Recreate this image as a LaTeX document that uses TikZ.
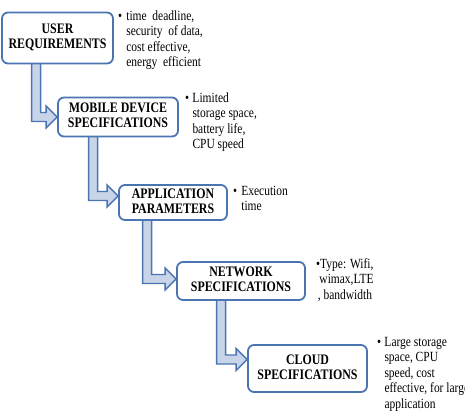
\documentclass[tikz,border=0pt]{standalone}
\usepackage{fontspec}
\setmainfont{Liberation Serif}
\usetikzlibrary{calc}
\definecolor{boxblue}{RGB}{74,117,178}
\definecolor{arrowfill}{RGB}{200,212,232}
\pgfdeclarelayer{bg}\pgfsetlayers{bg,main}
\tikzset{
  box/.style={draw=boxblue, line width=1.8pt, rounded corners=6pt, fill=white,
    align=center, font=\fontsize{14.5}{15}\selectfont\bfseries, inner sep=0pt},
  note/.style={anchor=base west, inner sep=0pt, align=left,
    font=\fontsize{14}{15.5}\selectfont},
  bent/.style={draw=boxblue, fill=arrowfill, line width=1.3pt, line join=miter}
}
\newcommand\bentarrow[4]{%
  \begin{pgfonlayer}{bg}
  \filldraw[bent] let \p1=(#1.south west), \p2=($(#2.west)+(0,#4)$) in
    (\x1+#3-4.5pt,\y1+2pt) -- (\x1+#3-4.5pt,\y2-4.5pt) -- (\x2-11pt,\y2-4.5pt)
    -- (\x2-11pt,\y2-11pt) -- (\x2,\y2) -- (\x2-11pt,\y2+11pt)
    -- (\x2-11pt,\y2+4.5pt) -- (\x1+#3+4.5pt,\y2+4.5pt)
    -- (\x1+#3+4.5pt,\y1+2pt) -- cycle;
  \end{pgfonlayer}}
\newcommand\bul{\textbullet}
\newcommand\sq[1]{\scalebox{0.82}[1]{#1}}
\newcommand\bx[2]{\sq{\begin{tabular}{@{}c@{}}#1\\#2\end{tabular}}}
\begin{document}
\begin{tikzpicture}[x=1pt,y=-1pt]
\useasboundingbox (0,0) rectangle (465,418);
\node[box, minimum width=111pt, minimum height=51pt] (b1) at (57.5,38) {\bx{USER}{REQUIREMENTS}};
\node[box, minimum width=120pt, minimum height=39pt] (b2) at (118,117) {\bx{MOBILE DEVICE}{SPECIFICATIONS}};
\node[box, minimum width=108pt, minimum height=35pt] (b3) at (173,202.5) {\bx{APPLICATION}{PARAMETERS}};
\node[box, minimum width=128pt, minimum height=38pt] (b4) at (241,281) {\bx{NETWORK}{SPECIFICATIONS}};
\node[box, minimum width=119pt, minimum height=47pt] (b5) at (307.5,368.5) {\bx{CLOUD}{SPECIFICATIONS}};

\bentarrow{b1}{b2}{35pt}{0}
\bentarrow{b2}{b3}{36pt}{-6.5}
\bentarrow{b3}{b4}{29pt}{-2}
\bentarrow{b4}{b5}{45pt}{-9}

\node[note] (n1) at (118,20) {\sq{\begin{tabular}[t]{@{}l@{\hspace{5pt}}l@{}}\bul & time\ \ deadline,\\ & security\ \ of\ data,\\ & cost effective,\\ & energy\ \ efficient\end{tabular}}};
\node[note] (n2) at (185,102) {\sq{\begin{tabular}[t]{@{}l@{\hspace{4pt}}l@{}}\bul & Limited\\ & storage space,\\ & battery life,\\ & CPU speed\end{tabular}}};
\node[note] (n3) at (233,195) {\sq{\begin{tabular}[t]{@{}l@{\hspace{5pt}}l@{}}\bul & Execution\\ & time\end{tabular}}};
\node[note] (n4) at (316,268) {\sq{\begin{tabular}[t]{@{}l@{}}\bul Type: Wifi,\\\hspace*{4pt}wimax,LTE\\\hspace*{2pt}, bandwidth\end{tabular}}};
\node[note] (n5) at (377,346) {\sq{\begin{tabular}[t]{@{}l@{\hspace{4pt}}l@{}}\bul & Large storage\\ & space, CPU\\ & speed, cost\\ & effective, for large\\ & application\end{tabular}}};
\end{tikzpicture}
\end{document}
